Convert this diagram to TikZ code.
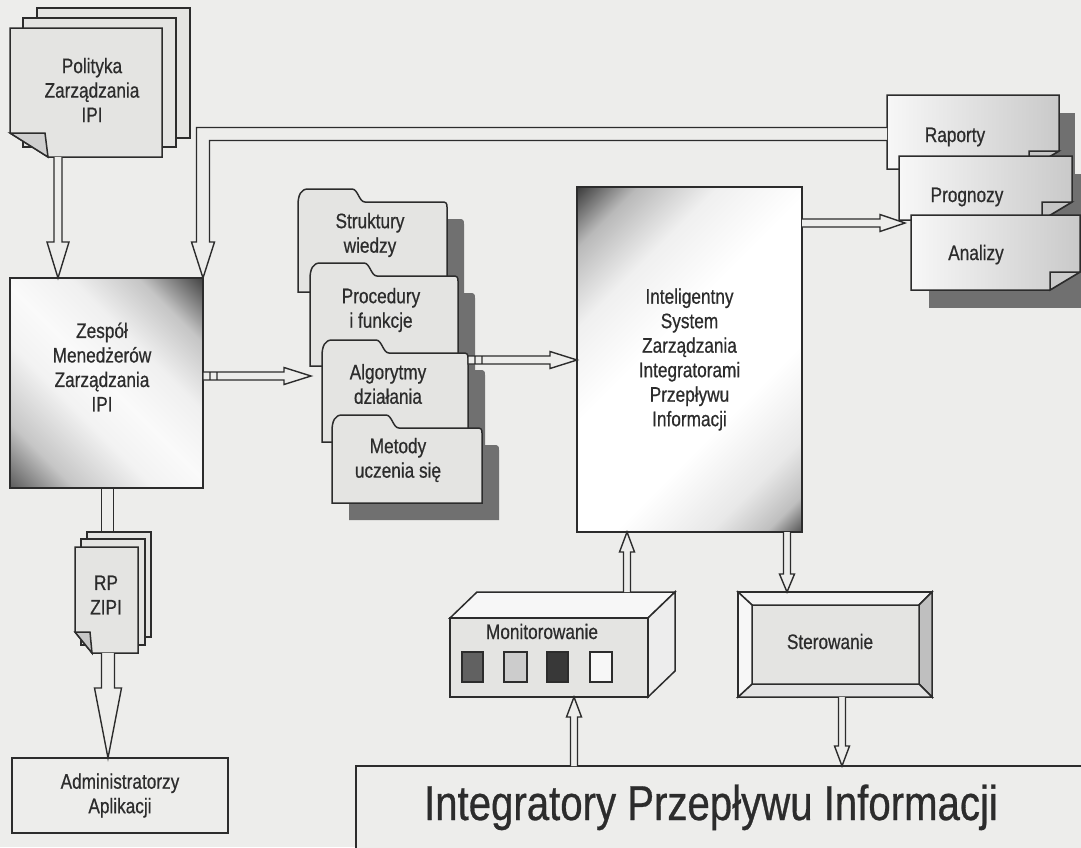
\documentclass[tikz,border=0pt]{standalone}
\usepackage{fontspec}
\setmainfont{Liberation Sans}[FakeStretch=0.82, FakeBold=0.6]
\usetikzlibrary{calc}

\definecolor{bgc}{RGB}{237,237,235}
\definecolor{paper}{RGB}{228,228,226}
\definecolor{shadowc}{RGB}{112,112,112}
\definecolor{ink}{RGB}{44,44,44}

\newcommand{\labfont}{\fontsize{21}{24.5}\selectfont}
\newcommand{\titlefont}{\fontsize{49}{56}\selectfont}

% diagonal gradients of the two main boxes
\pgfdeclarehorizontalshading{teamshade}{100bp}{%
  color(0bp)=(black!72); color(14bp)=(black!66); color(26bp)=(gray!45);
  color(40bp)=(gray!10); color(50bp)=(gray!4); color(62bp)=(gray!12);
  color(74bp)=(gray!45); color(86bp)=(black!76); color(100bp)=(black!80)}
\pgfdeclarehorizontalshading{systemshade}{100bp}{%
  color(0bp)=(black!85); color(14bp)=(black!80); color(22bp)=(gray!55);
  color(32bp)=(gray!12); color(44bp)=(white); color(62bp)=(white);
  color(74bp)=(gray!18); color(81bp)=(gray!50); color(86bp)=(black!72);
  color(100bp)=(black!78)}

% outline of a folder with a tab: left, tab top, right, bottom
\newcommand{\folderpath}[4]{(#1,#4) -- (#1,#2+16) .. controls (#1,#2+6) and (#1+3,#2) .. (#1+10,#2) -- (#1+54,#2) .. controls (#1+60,#2) and (#1+61,#2+13) .. (#1+67,#2+13) -- (#3-5,#2+13) .. controls (#3-1,#2+13) and (#3,#2+14) .. (#3,#2+18) -- (#3,#4) -- cycle}

\begin{document}
\begin{tikzpicture}[x=1pt,y=-1pt,
  outline/.style={draw=ink, line width=1.5pt, line join=miter},
  txt/.style={font=\labfont, text=ink, align=center, inner sep=0pt},
  spot/.style={inner sep=0pt, outer sep=0pt, minimum width=#1},
  boxnode/.style 2 args={outline, inner sep=0pt, outer sep=0pt, minimum width=#1, minimum height=#2},
  harrow/.style={draw=ink, line width=1.4pt, fill=bgc, line join=miter},
  % hollow arrows: shaft half width, head half width, head length
  hdown/.style n args={3}{to path={let \p1=(\tikztostart), \p2=(\tikztotarget) in
    (\x1-#1pt,\y1) -- (\x1-#1pt,\y2+#3pt) -- (\x1-#2pt,\y2+#3pt) -- (\x1,\y2)
    -- (\x1+#2pt,\y2+#3pt) -- (\x1+#1pt,\y2+#3pt) -- (\x1+#1pt,\y1)}},
  hup/.style n args={3}{to path={let \p1=(\tikztostart), \p2=(\tikztotarget) in
    (\x1-#1pt,\y1) -- (\x1-#1pt,\y2-#3pt) -- (\x1-#2pt,\y2-#3pt) -- (\x1,\y2)
    -- (\x1+#2pt,\y2-#3pt) -- (\x1+#1pt,\y2-#3pt) -- (\x1+#1pt,\y1)}},
  hright/.style n args={3}{to path={let \p1=(\tikztostart), \p2=(\tikztotarget) in
    (\x1,\y1+#1pt) -- (\x2-#3pt,\y1+#1pt) -- (\x2-#3pt,\y1+#2pt) -- (\x2,\y1)
    -- (\x2-#3pt,\y1-#2pt) -- (\x2-#3pt,\y1-#1pt) -- (\x1,\y1-#1pt)}},
  hrightstub/.style n args={3}{to path={let \p1=(\tikztostart), \p2=(\tikztotarget) in
    (\x1,\y1+#1pt) -- (\x2-#3pt,\y1+#1pt) -- (\x2-#3pt,\y1+#2pt) -- (\x2,\y1)
    -- (\x2-#3pt,\y1-#2pt) -- (\x2-#3pt,\y1-#1pt) -- (\x1,\y1-#1pt)
    (\x1,\y1-#1pt) rectangle (\x1+7pt,\y1+#1pt)
    (\x1+7pt,\y1-#1pt) rectangle (\x1+14pt,\y1+#1pt)}},
  hbend/.style n args={3}{to path={let \p1=(\tikztostart), \p2=(\tikztotarget) in
    (\x1,\y1+#1pt) -- (\x2-#1pt,\y1+#1pt) -- (\x2-#1pt,\y2+#3pt) -- (\x2-#2pt,\y2+#3pt)
    -- (\x2,\y2) -- (\x2+#2pt,\y2+#3pt) -- (\x2+#1pt,\y2+#3pt) -- (\x2+#1pt,\y1-#1pt)
    -- (\x1,\y1-#1pt)}},
  hshaft/.style={to path={let \p1=(\tikztostart), \p2=(\tikztotarget) in
    (\x1-#1pt,\y1) -- (\x1-#1pt,\y2) (\x1+#1pt,\y2) -- (\x1+#1pt,\y1)}}
]
\useasboundingbox (0,0) rectangle (1081,847);
\fill[bgc] (0,0) rectangle (1081,847);

% ---- policy document stack
\node[boxnode={153}{130}, fill=paper] (polback) at (113.5,73) {};
\node[boxnode={153}{129}, fill=paper] (polmid) at (99.5,82.5) {};
\draw[outline, fill=paper] (10,28) -- (162,28) -- (162,157) -- (48,157) -- (10,133) -- cycle;
\draw[outline, fill=gray!38] (10,133) -- (45,133) -- (48,157) -- cycle;
\node[spot=152, minimum height=129] (pol) at (86,92.5) {};
\node[txt] (poltext) at (92,90) {Polityka\\Zarządzania\\IPI};

% ---- management team
\node[boxnode={193}{210}, shading=teamshade, shading angle=45] (zes) at (106.5,383) {};
\node[txt] (zestext) at (102,367) {Zespół\\Menedżerów\\Zarządzania\\IPI};

% ---- RP ZIPI document stack
\node[boxnode={64}{105}, fill=paper] (rpback) at (119,584.5) {};
\node[boxnode={64}{106}, fill=paper] (rpmid) at (113,592) {};
\draw[outline, fill=paper] (75,547) -- (138,547) -- (138,653) -- (92,653) -- (75,632) -- cycle;
\draw[outline, fill=gray!45] (75,632) -- (90,632) -- (92,653) -- cycle;
\node[spot=63, minimum height=106] (rp) at (106.5,600) {};
\node[txt] (rptext) at (106,595) {RP\\ZIPI};

% ---- application administrators
\node[boxnode={216}{75}, fill=bgc, txt] (adm) at (120,795.5) {Administratorzy\\Aplikacji};

% ---- knowledge folders
\foreach \xa/\ya/\xb/\yb in {298/189/447/292, 310/263/458/366, 322/340/468/442, 332/415/482/503}
  \fill[shadowc, shift={(17,17)}] \folderpath{\xa}{\ya}{\xb}{\yb};
\draw[outline, fill=paper] \folderpath{298}{189}{447}{292};
\draw[outline, fill=paper] \folderpath{310}{263}{458}{366};
\draw[outline, fill=paper] \folderpath{322}{340}{468}{442};
\draw[outline, fill=paper] \folderpath{332}{415}{482}{503};
\node[spot=146, minimum height=89] (fold3) at (395,397.5) {};
\node[txt] (fold1text) at (370,235) {Struktury\\wiedzy};
\node[txt] (fold2text) at (381,310) {Procedury\\i funkcje};
\node[txt] (fold3text) at (388,384) {Algorytmy\\działania};
\node[txt] (fold4text) at (398,460) {Metody\\uczenia się};

% ---- intelligent management system
\node[boxnode={225}{345}, shading=systemshade, shading angle=-45, txt] (isz) at (689.5,359.5)
  {Inteligentny\\System\\Zarządzania\\Integratorami\\Przepływu\\Informacji};

% ---- reports, forecasts, analyses
\fill[shadowc] (903,113) rectangle (1075,187);
\draw[outline, left color=gray!6, right color=gray!42] (887,95) -- (1059,95) -- (1059,151) -- (1029,169) -- (887,169) -- cycle;
\draw[outline, fill=gray!45] (1029,151) -- (1059,151) -- (1029,169) -- cycle;
\fill[shadowc] (915,174) rectangle (1090,238);
\draw[outline, left color=gray!6, right color=gray!42] (899,156) -- (1072,156) -- (1072,202) -- (1042,220) -- (899,220) -- cycle;
\draw[outline, fill=gray!45] (1042,202) -- (1072,202) -- (1042,220) -- cycle;
\fill[shadowc] (929,233) rectangle (1098,308);
\draw[outline, left color=gray!6, right color=gray!42] (911,215) -- (1080,215) -- (1080,272) -- (1050,290) -- (911,290) -- cycle;
\draw[outline, fill=gray!40] (1050,272) -- (1080,272) -- (1050,290) -- cycle;
\node[spot=172, minimum height=74] (rap) at (973,132) {};
\node[spot=169, minimum height=75] (ana) at (995.5,252.5) {};
\node[txt, anchor=base] (raptext) at (955,142) {Raporty};
\node[txt, anchor=base] (progtext) at (967,202) {Prognozy};
\node[txt, anchor=base] (anatext) at (976,260) {Analizy};

% ---- monitoring unit
\draw[outline, fill=gray!6] (450,618) -- (477,592) -- (675,592) -- (648,618) -- cycle;
\draw[outline, fill=gray!14] (648,618) -- (675,592) -- (675,671) -- (648,697) -- cycle;
\node[boxnode={198}{79}, fill=paper] (mon) at (549,657.5) {};
\coordinate (monback) at (627,592);
\node[txt, anchor=base] (montext) at (542,639) {Monitorowanie};
\draw[draw=ink, line width=1.3pt, fill=black!62] (462,652) rectangle (483,682);
\draw[draw=ink, line width=1.3pt, fill=gray!40] (504,652) rectangle (527,682);
\draw[draw=ink, line width=1.3pt, fill=black!78] (547,652) rectangle (568,682);
\draw[draw=ink, line width=1.3pt, fill=gray!6] (590,652) rectangle (612,682);

% ---- control unit, bevelled frame
\node[boxnode={194}{105}, fill=paper] (ste) at (835,644.5) {};
\draw[outline, fill=gray!10] (738,592) -- (932,592) -- (919,605) -- (752,605) -- cycle;
\draw[outline, fill=gray!50] (932,592) -- (932,697) -- (919,684) -- (919,605) -- cycle;
\draw[outline, fill=gray!22] (738,697) -- (932,697) -- (919,684) -- (752,684) -- cycle;
\draw[outline, fill=gray!6] (738,592) -- (752,605) -- (752,684) -- (738,697) -- cycle;
\node[txt, anchor=base] (stetext) at (830,649) {Sterowanie};

% ---- information flow integrators
\node[boxnode={744}{114}, fill=bgc] (ipi) at (728,823) {};
\node[font=\titlefont, text=ink, inner sep=0pt, anchor=base] (ipitext) at (711,820) {Integratory Przepływu Informacji};

% ---- connectors
\draw[harrow, hdown={4}{11}{36}] ([xshift=48pt]pol.south west) to (zes.north);
\draw[harrow, hbend={6.5}{11.5}{36}] ([yshift=-2pt]rap.west) to (zes.north east);
\draw[harrow, hrightstub={4}{8.5}{27}] ([yshift=7pt]zes.east) to ([xshift=-11pt]fold3.west);
\draw[harrow, hrightstub={4}{8.5}{27}] ([yshift=-7pt]fold3.north east) to (isz.west);
\draw[harrow, hright={4}{8.5}{25}] ([yshift=-36pt]isz.north east) to ([xshift=-6pt]ana.west);
\draw[harrow, hdown={3.5}{7.5}{18}] ([xshift=-15pt]isz.south east) to (ste.north);
\draw[harrow, hup={3.5}{7.5}{20}] (monback) to (isz.south);
\draw[harrow, hup={3.5}{7.5}{20}] ([xshift=218pt]ipi.north west) to (mon.south);
\draw[harrow, hdown={3.5}{7.5}{20}] ([xshift=7pt]ste.south) to (ipi.north);
\draw[harrow, hshaft=6] ([xshift=1pt]zes.south) to (rpback.north);
\draw[harrow, hdown={6.5}{13.5}{70}] ([xshift=1.5pt]rp.south) to (adm.north);
\end{tikzpicture}
\end{document}
